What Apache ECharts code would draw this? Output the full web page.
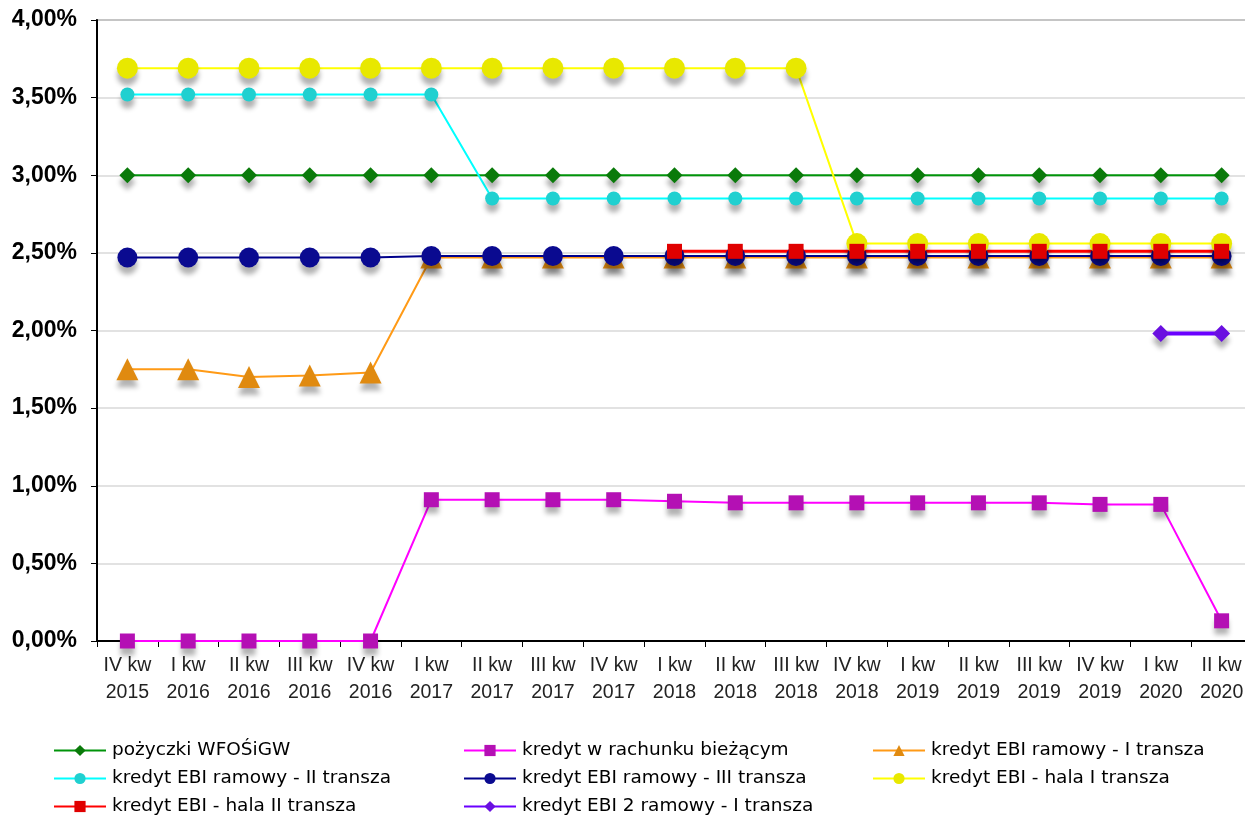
<!DOCTYPE html>
<html>
<head>
<meta charset="utf-8">
<script src="https://cdn.jsdelivr.net/npm/echarts@6/dist/echarts.min.js"></script>
<style>html,body{margin:0;padding:0;background:#fff;}#c{width:1245px;height:817px;}</style>
</head>
<body>
<div id="c"></div>
<script>
const categories = ['IV kw\n2015','I kw\n2016','II kw\n2016','III kw\n2016','IV kw\n2016','I kw\n2017','II kw\n2017','III kw\n2017','IV kw\n2017','I kw\n2018','II kw\n2018','III kw\n2018','IV kw\n2018','I kw\n2019','II kw\n2019','III kw\n2019','IV kw\n2019','I kw\n2020','II kw\n2020'];
const pozyczkiWFOS = [3.00,3.00,3.00,3.00,3.00,3.00,3.00,3.00,3.00,3.00,3.00,3.00,3.00,3.00,3.00,3.00,3.00,3.00,3.00];
const kredytRachunek = [0,0,0,0,0,0.91,0.91,0.91,0.91,0.90,0.89,0.89,0.89,0.89,0.89,0.89,0.88,0.88,0.13];
const ebiRamowyI = [1.75,1.75,1.70,1.71,1.73,2.47,2.47,2.47,2.47,2.47,2.47,2.47,2.47,2.47,2.47,2.47,2.47,2.47,2.47];
const ebiRamowyII = [3.52,3.52,3.52,3.52,3.52,3.52,2.85,2.85,2.85,2.85,2.85,2.85,2.85,2.85,2.85,2.85,2.85,2.85,2.85];
const ebiRamowyIII = [2.47,2.47,2.47,2.47,2.47,2.48,2.48,2.48,2.48,2.48,2.48,2.48,2.48,2.48,2.48,2.48,2.48,2.48,2.48];
const ebiHalaI = [3.69,3.69,3.69,3.69,3.69,3.69,3.69,3.69,3.69,3.69,3.69,3.69,2.56,2.56,2.56,2.56,2.56,2.56,2.56];
const ebiHalaII = [null,null,null,null,null,null,null,null,null,2.51,2.51,2.51,2.51,2.51,2.51,2.51,2.51,2.51,2.51];
const ebi2RamowyI = [null,null,null,null,null,null,null,null,null,null,null,null,null,null,null,null,null,1.98,1.98];
const yTicks = [0,0.5,1,1.5,2,2.5,3,3.5,4];

const names = ['pożyczki WFOŚiGW','kredyt w rachunku bieżącym','kredyt EBI ramowy - I transza','kredyt EBI ramowy - II transza','kredyt EBI ramowy - III transza','kredyt EBI - hala I transza','kredyt EBI - hala II transza','kredyt EBI 2 ramowy - I transza'];
const datas = [pozyczkiWFOS,kredytRachunek,ebiRamowyI,ebiRamowyII,ebiRamowyIII,ebiHalaI,ebiHalaII,ebi2RamowyI];
const lineColors = ['#00940a','#ff00ff','#ff9a16','#00ffff','#00008b','#ffff00','#ff0000','#6a00ff'];
const markColors = ['#0a7a0a','#b410b4','#e08a10','#20d0d0','#0a0a90','#e8e800','#e00000','#6a10e0'];
const symbols = ['diamond','rect','triangle','circle','circle','circle','rect','diamond'];
const sizes = [16,15,22,14,20,21,15,17];
const widths = [2,2,2,2,2,2,3,4];

const series = names.map((n,i)=>({
  name:n, type:'line', data:datas[i], symbol:symbols[i], symbolSize:sizes[i],
  lineStyle:{color:lineColors[i], width:widths[i]},
  itemStyle:{color:markColors[i], shadowBlur:5, shadowOffsetY:7, shadowColor:'rgba(0,0,0,0.3)'},
  connectNulls:false, animation:false
}));

const legendPos = [[53,741],[463,741],[872,741],[53,769],[463,769],[872,769],[53,797],[463,797]];
const legends = names.map((n,i)=>({
  data:[n], left:legendPos[i][0], top:legendPos[i][1], itemWidth:52, itemHeight:14, itemGap:4,
  textStyle:{fontFamily:'DejaVu Sans', fontSize:18.5, color:'#000', padding:[0,0,0,1]},
  selectedMode:false, padding:0
}));

const chart = echarts.init(document.getElementById('c'), null, {renderer:'canvas'});
chart.setOption({
  animation:false,
  backgroundColor:'#fff',
  grid:{left:97, top:20, width:1155, height:621, outerBoundsMode:'none', containLabel:false, show:true, borderColor:'#8a8a8a', borderWidth:2, backgroundColor:'transparent'},
  legend:legends,
  xAxis:{type:'category', data:categories, boundaryGap:true,
    axisLine:{lineStyle:{color:'#000', width:2}},
    axisTick:{show:true, length:6, lineStyle:{color:'#000'}},
    axisLabel:{fontFamily:'Liberation Sans', fontSize:19.5, color:'#222', lineHeight:27, margin:11, interval:0}},
  yAxis:{type:'value', min:0, max:4, interval:0.5,
    axisLine:{show:true, lineStyle:{color:'#000', width:2}},
    axisTick:{show:true, length:6, lineStyle:{color:'#000'}},
    splitLine:{lineStyle:{color:'#d9d9d9', width:1.5}},
    axisLabel:{fontFamily:'Liberation Sans', fontSize:23, fontWeight:'bold', color:'#000', margin:20,
      formatter:v=>v.toFixed(2).replace('.',',')+'%'}},
  series:series
});
</script>
</body>
</html>
